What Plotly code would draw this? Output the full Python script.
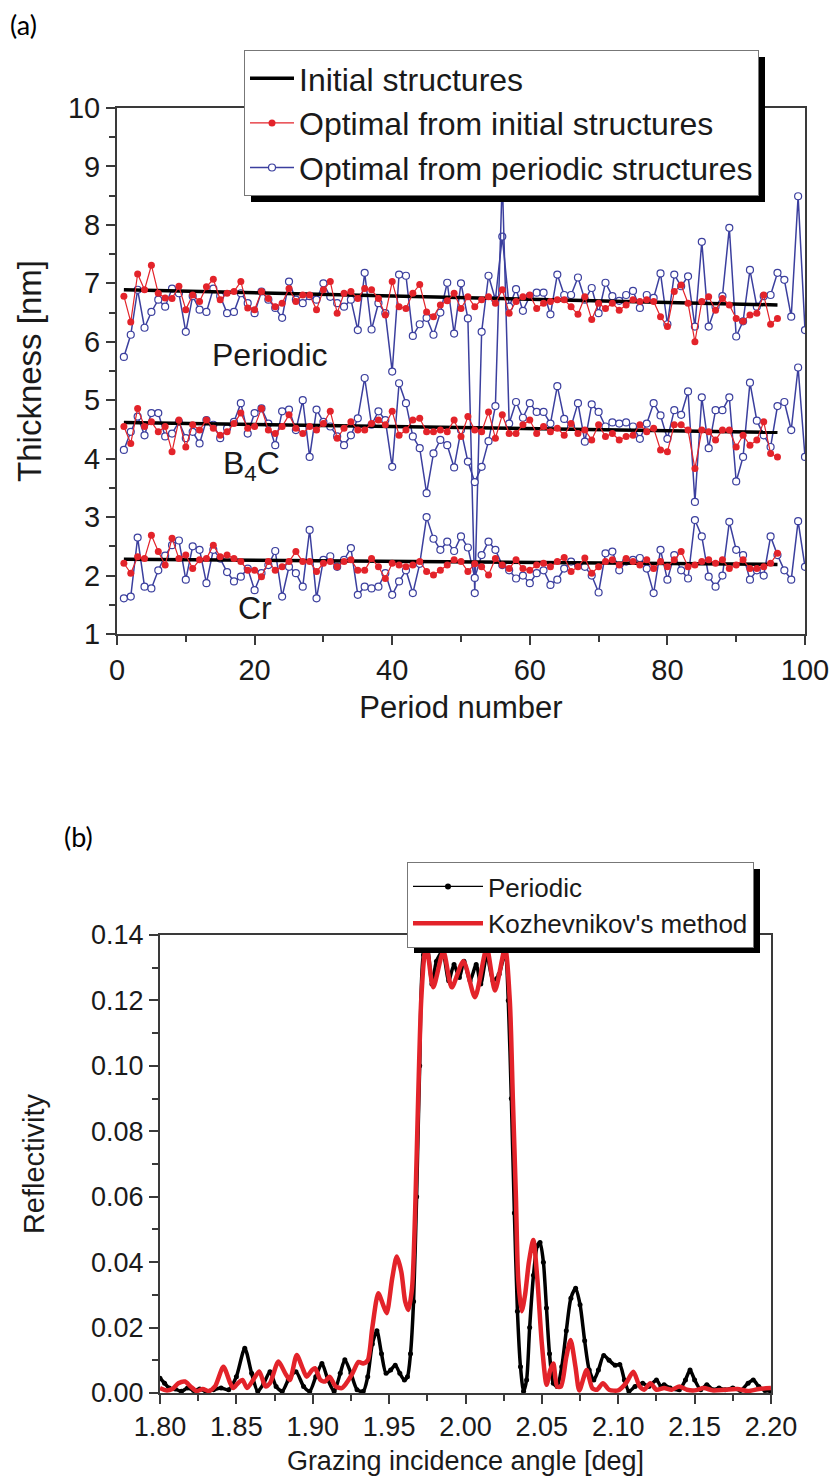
import plotly.graph_objects as go

W, H = 837, 1481
FONT = "Liberation Sans"

# ---------------- (a) thickness data ----------------
period_opt = list(range(1, 97))
period_per = list(range(1, 101))

init_x = [1, 96]
init_periodic = [6.89, 6.63]
init_b4c = [4.62, 4.45]
init_cr = [2.28, 2.19]

red_periodic = [6.78, 6.34, 7.16, 6.89, 7.31, 6.83, 6.75, 6.74, 6.95, 6.55,
                6.80, 6.69, 6.94, 7.07, 6.72, 6.83, 6.86, 7.03, 6.58, 6.55,
                6.86, 6.74, 6.60, 6.66, 6.91, 6.69, 6.80, 6.80, 6.55, 6.89,
                7.03, 6.49, 6.83, 6.86, 6.74, 6.91, 6.89, 6.74, 6.46, 7.03,
                6.60, 6.57, 6.83, 6.98, 6.51, 6.43, 6.63, 6.70, 6.83, 6.57,
                6.77, 6.60, 6.72, 6.77, 6.66, 6.89, 6.49, 6.69, 6.77, 6.80,
                6.57, 6.66, 6.69, 6.72, 6.72, 6.60, 6.47, 6.77, 6.38, 6.66,
                6.57, 6.66, 6.54, 6.63, 6.72, 6.69, 6.72, 6.69, 6.43, 6.26,
                6.86, 6.97, 6.66, 6.00, 6.69, 6.77, 6.54, 6.74, 6.63, 6.40,
                6.35, 6.46, 6.49, 6.80, 6.30, 6.40]

blue_periodic = [5.74, 6.12, 6.89, 6.24, 6.51, 6.72, 6.60, 6.91, 6.83, 6.17,
                 6.78, 6.55, 6.51, 6.91, 6.78, 6.49, 6.51, 6.83, 6.66, 6.49,
                 6.86, 6.72, 6.58, 6.41, 7.03, 6.72, 6.66, 6.78, 6.72, 7.00,
                 6.77, 6.66, 6.60, 6.72, 6.20, 7.18, 6.21, 6.66, 6.49, 5.49,
                 7.15, 7.13, 6.10, 6.30, 6.41, 6.12, 6.50, 7.01, 6.14, 7.00,
                 6.40, 1.70, 6.17, 7.13, 6.72, 7.80, 6.60, 6.90, 6.53, 6.78,
                 6.84, 6.84, 6.47, 7.15, 6.80, 6.80, 7.10, 6.72, 6.92, 6.49,
                 7.01, 6.78, 6.70, 6.80, 6.87, 6.58, 6.80, 6.75, 7.17, 6.30,
                 7.15, 6.95, 7.12, 6.26, 7.71, 6.26, 6.60, 6.78, 7.95, 6.09,
                 6.35, 7.23, 6.60, 6.78, 6.80, 7.18, 7.06, 6.43, 8.49, 6.20]

red_b4c = [4.55, 4.26, 4.86, 4.55, 4.63, 4.46, 4.55, 4.12, 4.66, 4.20,
           4.58, 4.49, 4.66, 4.52, 4.40, 4.46, 4.60, 4.78, 4.52, 4.55,
           4.86, 4.49, 4.43, 4.55, 4.75, 4.52, 4.43, 4.55, 4.49, 4.60,
           4.81, 4.35, 4.52, 4.63, 4.49, 4.49, 4.60, 4.66, 4.58, 4.81,
           4.40, 4.49, 4.66, 4.69, 4.46, 4.46, 4.49, 4.46, 4.66, 4.38,
           4.72, 4.49, 4.46, 4.80, 4.35, 4.75, 4.43, 4.43, 4.58, 4.66,
           4.43, 4.55, 4.46, 4.52, 4.40, 4.60, 4.43, 4.49, 4.32, 4.58,
           4.38, 4.43, 4.32, 4.38, 4.40, 4.58, 4.46, 4.52, 4.15, 4.12,
           4.58, 4.58, 4.49, 3.83, 4.49, 4.46, 4.32, 4.49, 4.49, 4.20,
           4.40, 4.23, 4.32, 4.63, 4.09, 4.03]

blue_b4c = [4.15, 4.46, 4.72, 4.40, 4.78, 4.78, 4.38, 4.43, 4.63, 4.35,
            4.46, 4.26, 4.66, 4.58, 4.35, 4.52, 4.63, 4.95, 4.43, 4.78,
            4.86, 4.60, 4.23, 4.81, 4.84, 4.49, 5.00, 4.03, 4.84, 4.63,
            4.55, 4.38, 4.23, 4.40, 4.69, 5.38, 4.58, 4.81, 4.66, 3.86,
            5.29, 4.95, 4.38, 4.18, 3.41, 4.09, 4.32, 4.23, 3.85, 4.49,
            3.95, 3.60, 3.86, 4.30, 4.90, 8.80, 4.60, 4.97, 4.70, 4.95,
            4.80, 4.80, 4.60, 5.24, 4.68, 4.55, 4.95, 4.29, 4.93, 4.80,
            4.55, 4.62, 4.60, 4.62, 4.55, 4.34, 4.60, 4.95, 4.74, 4.34,
            4.83, 4.75, 5.15, 3.26, 5.05, 4.18, 4.83, 4.83, 5.05, 3.61,
            4.03, 5.30, 4.65, 4.40, 4.20, 4.90, 4.97, 4.49, 5.56, 4.03]

red_cr = [2.21, 2.04, 2.32, 2.29, 2.69, 2.41, 2.18, 2.64, 2.29, 2.35,
          2.12, 2.27, 2.29, 2.52, 2.32, 2.35, 2.29, 2.24, 2.09, 2.09,
          1.98, 2.24, 2.09, 2.15, 2.24, 2.41, 2.24, 2.24, 2.07, 2.21,
          2.24, 2.15, 2.24, 2.27, 2.09, 2.09, 2.29, 2.15, 1.95, 2.21,
          2.18, 2.15, 2.18, 2.24, 2.07, 2.01, 2.09, 2.18, 2.27, 2.24,
          2.07, 2.20, 2.15, 2.01, 2.29, 2.18, 2.12, 2.27, 2.12, 2.09,
          2.18, 2.21, 2.15, 2.24, 2.31, 2.07, 2.15, 2.30, 2.04, 2.15,
          2.24, 2.27, 2.18, 2.29, 2.24, 2.18, 2.27, 2.12, 2.24, 2.15,
          2.27, 2.41, 2.15, 2.18, 2.24, 2.27, 2.21, 2.27, 2.12, 2.18,
          2.27, 2.12, 2.12, 2.15, 2.21, 2.38]

blue_cr = [1.61, 1.64, 2.65, 1.81, 1.78, 2.09, 2.34, 2.52, 2.60, 1.93,
           2.50, 2.44, 1.87, 2.44, 2.29, 2.06, 1.90, 1.98, 2.12, 1.75,
           2.04, 2.18, 2.42, 1.64, 2.15, 2.04, 1.81, 2.78, 1.61, 2.27,
           2.33, 2.15, 2.27, 2.47, 1.67, 1.81, 1.78, 1.81, 2.04, 1.67,
           1.90, 2.09, 1.70, 2.20, 3.00, 2.63, 2.44, 2.58, 2.42, 2.67,
           2.48, 1.96, 2.35, 2.58, 2.44, 2.18, 2.09, 1.95, 2.00, 1.87,
           2.04, 2.09, 1.84, 1.93, 2.12, 2.24, 2.18, 2.15, 2.00, 1.71,
           2.38, 2.41, 2.09, 2.24, 2.27, 2.30, 2.12, 1.70, 2.44, 1.93,
           2.35, 2.09, 1.95, 2.95, 2.67, 1.98, 1.81, 2.00, 2.92, 2.44,
           2.35, 1.93, 2.09, 2.00, 2.67, 2.35, 2.09, 1.93, 2.93, 2.15]

# ---------------- (b) reflectivity data ----------------
ang_periodic = [1.800, 1.803, 1.806, 1.810, 1.814, 1.818, 1.822, 1.826, 1.830, 1.835,
                1.840, 1.845, 1.850, 1.8555, 1.860, 1.864, 1.868, 1.872, 1.876, 1.880,
                1.884, 1.889, 1.894, 1.898, 1.902, 1.906, 1.910, 1.914, 1.918, 1.921,
                1.925, 1.929, 1.933, 1.936, 1.939, 1.942, 1.945, 1.948, 1.951, 1.954,
                1.957, 1.960, 1.962, 1.964, 1.966, 1.968, 1.970, 1.9725, 1.975, 1.978,
                1.981, 1.985, 1.989, 1.9925, 1.996, 1.999, 2.003, 2.007, 2.010, 2.014,
                2.018, 2.022, 2.026, 2.028, 2.030, 2.032, 2.034, 2.036, 2.038, 2.040,
                2.042, 2.0445, 2.047, 2.0488, 2.051, 2.053, 2.055, 2.0575, 2.060, 2.063,
                2.066, 2.069, 2.0721, 2.075, 2.078, 2.081, 2.084, 2.087, 2.0905, 2.094,
                2.098, 2.101, 2.104, 2.107, 2.111, 2.116, 2.120, 2.125, 2.128, 2.130,
                2.134, 2.140, 2.144, 2.147, 2.150, 2.154, 2.158, 2.162, 2.166, 2.170,
                2.175, 2.180, 2.185, 2.1884, 2.192, 2.196, 2.200]
refl_periodic = [0.0045, 0.0030, 0.0015, 0.0012, 0.0005, 0.0015, 0.0008, 0.0012, 0.0005, 0.0010,
                 0.0015, 0.0010, 0.0050, 0.0137, 0.0060, 0.0005, 0.0030, 0.0065, 0.0020, 0.0005,
                 0.0040, 0.0065, 0.0020, 0.0005, 0.0050, 0.0090, 0.0040, 0.0005, 0.0060, 0.0102,
                 0.0060, 0.0010, 0.0005, 0.0050, 0.0150, 0.0190, 0.0120, 0.0060, 0.0070, 0.0085,
                 0.0060, 0.0040, 0.0050, 0.0120, 0.0280, 0.0600, 0.1000, 0.1340, 0.1360, 0.1250,
                 0.1320, 0.1350, 0.1260, 0.1310, 0.1270, 0.1320, 0.1260, 0.1310, 0.1250, 0.1340,
                 0.1260, 0.1280, 0.1350, 0.1200, 0.0900, 0.0550, 0.0250, 0.0080, 0.0005, 0.0040,
                 0.0200, 0.0360, 0.0450, 0.0460, 0.0400, 0.0260, 0.0120, 0.0030, 0.0020, 0.0080,
                 0.0190, 0.0290, 0.0320, 0.0270, 0.0160, 0.0070, 0.0040, 0.0070, 0.0115, 0.0100,
                 0.0085, 0.0087, 0.0040, 0.0005, 0.0020, 0.0030, 0.0020, 0.0040, 0.0020, 0.0025,
                 0.0015, 0.0010, 0.0040, 0.0070, 0.0040, 0.0010, 0.0025, 0.0010, 0.0015, 0.0010,
                 0.0015, 0.0008, 0.0030, 0.0040, 0.0020, 0.0008, 0.0005]

ang_kozh = [1.800, 1.804, 1.808, 1.812, 1.8164, 1.820, 1.824, 1.828, 1.832, 1.836,
            1.8415, 1.846, 1.848, 1.851, 1.854, 1.857, 1.861, 1.865, 1.869, 1.872,
            1.8775, 1.882, 1.885, 1.8895, 1.893, 1.896, 1.8995, 1.9015, 1.905, 1.908,
            1.911, 1.915, 1.919, 1.922, 1.926, 1.930, 1.933, 1.936, 1.939, 1.9429,
            1.946, 1.9484, 1.952, 1.955, 1.958, 1.9605, 1.9626, 1.965, 1.967, 1.969,
            1.971, 1.9735, 1.9746, 1.9789, 1.9855, 1.991, 1.9986, 2.0062, 2.0139, 2.0193,
            2.0259, 2.029, 2.031, 2.033, 2.0345, 2.0368, 2.039, 2.0415, 2.0444, 2.047,
            2.050, 2.0531, 2.0555, 2.0575, 2.060, 2.0625, 2.066, 2.0688, 2.072, 2.0745,
            2.0793, 2.083, 2.086, 2.090, 2.094, 2.100, 2.105, 2.1099, 2.114, 2.117,
            2.121, 2.125, 2.130, 2.135, 2.140, 2.145, 2.150, 2.156, 2.162, 2.170,
            2.178, 2.185, 2.192, 2.200]
refl_kozh = [0.0015, 0.0008, 0.0012, 0.0030, 0.0035, 0.0020, 0.0006, 0.0012, 0.0006, 0.0020,
             0.0080, 0.0030, 0.0015, 0.0030, 0.0040, 0.0015, 0.0040, 0.0066, 0.0020, 0.0030,
             0.0096, 0.0060, 0.0040, 0.0116, 0.0080, 0.0050, 0.0070, 0.0076, 0.0040, 0.0035,
             0.0050, 0.0020, 0.0015, 0.0030, 0.0060, 0.0095, 0.0090, 0.0100, 0.0200, 0.0305,
             0.0270, 0.0244, 0.0350, 0.0417, 0.0370, 0.0280, 0.0254, 0.0320, 0.0550, 0.0900,
             0.1200, 0.1350, 0.1360, 0.1240, 0.1350, 0.1240, 0.1320, 0.1210, 0.1360, 0.1230,
             0.1360, 0.1200, 0.0900, 0.0600, 0.0350, 0.0250, 0.0300, 0.0400, 0.0468, 0.0350,
             0.0150, 0.0025, 0.0070, 0.0090, 0.0020, 0.0020, 0.0110, 0.0162, 0.0080, 0.0008,
             0.0070, 0.0015, 0.0010, 0.0030, 0.0010, 0.0008, 0.0030, 0.0065, 0.0020, 0.0010,
             0.0030, 0.0010, 0.0015, 0.0010, 0.0020, 0.0010, 0.0008, 0.0015, 0.0008, 0.0010,
             0.0012, 0.0006, 0.0012, 0.0015]

RED = "#e3232a"
BLUE = "#3b3f9e"
AX = "#3a3a3a"

fig = go.Figure()

# (a) traces
for i, yb in enumerate([blue_periodic, blue_b4c, blue_cr]):
    fig.add_trace(go.Scatter(
        x=period_per, y=yb, mode="lines+markers", name="Optimal from periodic structures",
        legendgroup="blue", showlegend=(i == 0), legend="legend", legendrank=3,
        line=dict(color=BLUE, width=1.5),
        marker=dict(symbol="circle", size=7, color="white", line=dict(color=BLUE, width=1.2)),
        xaxis="x", yaxis="y"))
for i, yi in enumerate([init_periodic, init_b4c, init_cr]):
    fig.add_trace(go.Scatter(
        x=init_x, y=yi, mode="lines", name="Initial structures",
        legendgroup="black", showlegend=(i == 0), legend="legend", legendrank=1,
        line=dict(color="black", width=3.5), xaxis="x", yaxis="y"))
for i, yr in enumerate([red_periodic, red_b4c, red_cr]):
    fig.add_trace(go.Scatter(
        x=period_opt, y=yr, mode="lines+markers", name="Optimal from initial structures",
        legendgroup="red", showlegend=(i == 0), legend="legend", legendrank=2,
        line=dict(color=RED, width=1.2),
        marker=dict(symbol="circle", size=7, color=RED),
        xaxis="x", yaxis="y"))

# (b) traces
fig.add_trace(go.Scatter(
    x=ang_periodic, y=refl_periodic, mode="lines+markers", name="Periodic",
    showlegend=False, line=dict(color="black", width=3.5, shape="spline", smoothing=0.7),
    marker=dict(size=5, color="black"), xaxis="x2", yaxis="y2"))
fig.add_trace(go.Scatter(
    x=[None], y=[None], mode="lines+markers", name="Periodic", legend="legend2",
    line=dict(color="black", width=1.2), marker=dict(size=6, color="black"),
    xaxis="x2", yaxis="y2"))
fig.add_trace(go.Scatter(
    x=ang_kozh, y=refl_kozh, mode="lines", name="Kozhevnikov's method", legend="legend2",
    line=dict(color=RED, width=4.5, shape="spline", smoothing=0.7),
    xaxis="x2", yaxis="y2"))


def px_x(p):
    return p / W


def px_y(p):
    return 1 - p / H


def axis_common(size):
    return dict(showline=True, linecolor=AX, linewidth=2, mirror=True,
                ticks="outside", ticklen=9, tickwidth=2, tickcolor=AX,
                showgrid=False, zeroline=False, automargin=False,
                tickfont=dict(family=FONT, size=size, color="#1a1a1a"))


# legend geometry (pixels)
LG1_L, LG1_T = 244, 50
LG2_L, LG2_T = 407, 862

fig.update_layout(
    width=W, height=H, margin=dict(l=0, r=0, t=0, b=0, autoexpand=False),
    paper_bgcolor="white", plot_bgcolor="white",
    font=dict(family=FONT, color="#1a1a1a"),
    xaxis=dict(domain=[px_x(117), px_x(805)], range=[0, 100], dtick=20,
               anchor="y",
               minor=dict(ticks="outside", ticklen=6, tickwidth=2, tickcolor=AX, dtick=10),
               title=dict(text="Period number", font=dict(size=31), standoff=12),
               **axis_common(29)),
    yaxis=dict(domain=[px_y(634), px_y(108)], range=[1, 10], dtick=1,
               anchor="x",
               minor=dict(ticks="outside", ticklen=6, tickwidth=2, tickcolor=AX, dtick=0.5),
               title=dict(text="Thickness [nm]", font=dict(size=33), standoff=16),
               **axis_common(29)),
    xaxis2=dict(domain=[px_x(160), px_x(771)], range=[1.8, 2.2], dtick=0.05,
                tickformat=".2f", anchor="y2",
                minor=dict(ticks="outside", ticklen=6, tickwidth=2, tickcolor=AX, dtick=0.025),
                title=dict(text="Grazing incidence angle [deg]", font=dict(size=27), standoff=10),
                **axis_common(27)),
    yaxis2=dict(domain=[px_y(1393), px_y(935)], range=[0, 0.14], dtick=0.02,
                tickformat=".2f", anchor="x2",
                minor=dict(ticks="outside", ticklen=6, tickwidth=2, tickcolor=AX, dtick=0.01),
                title=dict(text="Reflectivity", font=dict(size=29), standoff=38),
                **axis_common(27)),
    legend=dict(x=px_x(LG1_L), y=px_y(LG1_T), xanchor="left", yanchor="top",
                bgcolor="white", bordercolor="#777", borderwidth=1,
                font=dict(family=FONT, size=32, color="#1a1a1a"),
                itemwidth=44, tracegroupgap=0),
    legend2=dict(x=px_x(LG2_L), y=px_y(LG2_T), xanchor="left", yanchor="top",
                 bgcolor="white", bordercolor="#777", borderwidth=1,
                 font=dict(family=FONT, size=26, color="#1a1a1a"),
                 itemwidth=70, tracegroupgap=0),
    showlegend=True,
)

# legend drop shadows (drawn beneath the legend boxes)
fig.add_shape(type="rect", xref="paper", yref="paper", layer="above",
              x0=px_x(LG1_L + 7), x1=px_x(LG1_L + 521), y0=px_y(LG1_T + 152), y1=px_y(LG1_T + 7),
              fillcolor="black", line=dict(width=0))
fig.add_shape(type="rect", xref="paper", yref="paper", layer="above",
              x0=px_x(LG2_L + 7), x1=px_x(LG2_L + 353), y0=px_y(LG2_T + 91), y1=px_y(LG2_T + 7),
              fillcolor="black", line=dict(width=0))

annos = [
    dict(x=22.2, y=5.77, text="Periodic"),
    dict(x=19.5, y=3.89, text="B<sub>4</sub>C"),
    dict(x=20.0, y=1.45, text="Cr"),
]
for a in annos:
    fig.add_annotation(x=a["x"], y=a["y"], xref="x", yref="y", text=a["text"],
                       showarrow=False, font=dict(family=FONT, size=32, color="#1a1a1a"))

fig.add_annotation(x=px_x(8), y=px_y(6), xref="paper", yref="paper", text="(a)",
                   showarrow=False, xanchor="left", yanchor="top",
                   font=dict(family="Lato", size=27, color="black"))
fig.add_annotation(x=px_x(62), y=px_y(818), xref="paper", yref="paper", text="(b)",
                   showarrow=False, xanchor="left", yanchor="top",
                   font=dict(family="Lato", size=27, color="black"))

fig.write_html("out.html")
